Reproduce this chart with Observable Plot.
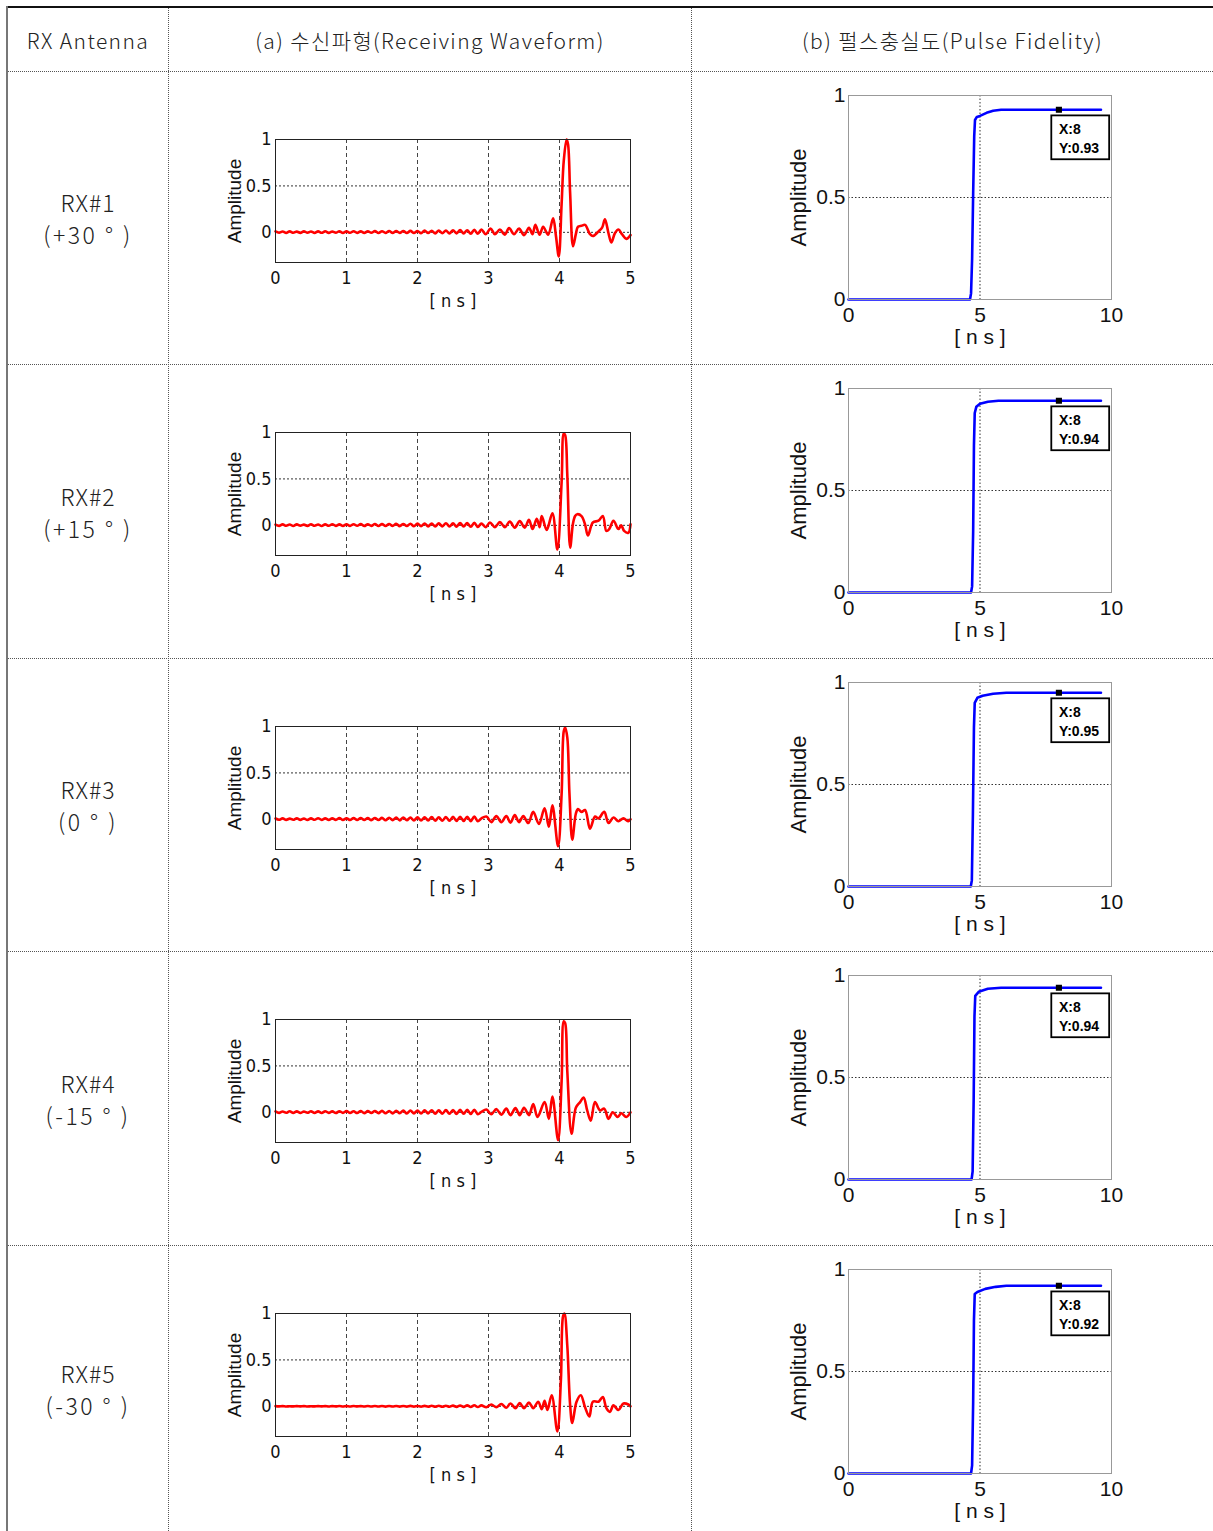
<!DOCTYPE html>
<html>
<head>
<meta charset="utf-8">
<script src="https://cdn.jsdelivr.net/npm/d3@7"></script>
<script src="https://cdn.jsdelivr.net/npm/@observablehq/plot@0.6"></script>
<style>
  body { margin: 0; background: #fff; }
  #page { position: relative; width: 1213px; height: 1531px; overflow: hidden;
          font-family: "Noto Sans CJK KR", sans-serif; color: #222; }
  .hline { position: absolute; height: 0; border-top: 1px dotted #555; }
  .vline { position: absolute; width: 0; border-left: 1px dotted #555; }
  .cell { position: absolute; display: flex; flex-direction: column;
          align-items: center; justify-content: center; text-align: center; }
  .head { font-size: 21px; letter-spacing: 1.4px; font-weight: 300; }
  .rxlab { font-size: 23px; line-height: 32px; letter-spacing: 1px; font-weight: 300; }
  .rxlab .ang { letter-spacing: 2.5px; }
  .chart { position: absolute; }
  .chart svg { overflow: visible; }
</style>
</head>
<body>
<div id="page"></div>
<script>
// ---- table text ----
const headers = ["RX Antenna", "(a) 수신파형(Receiving Waveform)", "(b) 펄스충실도(Pulse Fidelity)"];
const antennas = ["RX#1", "RX#2", "RX#3", "RX#4", "RX#5"];
const angles = ["(+30 ° )", "(+15 ° )", "(0 ° )", "(-15 ° )", "(-30 ° )"];

// ---- receiving waveforms (time in ns, normalised amplitude) ----
// early low-level ripple, shared time grid
const leadT = [0,0.05,0.1,0.15,0.2,0.25,0.3,0.35,0.4,0.45,
  0.5,0.55,0.6,0.65,0.7,0.75,0.8,0.85,0.9,0.95,
  1,1.05,1.1,1.15,1.2,1.25,1.3,1.35,1.4,1.45,
  1.5,1.55,1.6,1.65,1.7,1.75,1.8,1.85,1.9,1.95,
  2,2.05,2.1,2.15,2.2,2.25,2.3,2.35,2.4,2.45,
  2.5,2.55,2.6,2.65,2.7,2.75,2.8,2.85];

const lead1 = [0.010,-0.004,0.009,-0.006,0.010,-0.005,0.008,-0.006,0.011,-0.004,
  0.009,-0.006,0.010,-0.005,0.011,-0.006,0.009,-0.004,0.011,-0.007,
  0.010,-0.005,0.012,-0.006,0.011,-0.007,0.012,-0.005,0.013,-0.007,
  0.012,-0.006,0.014,-0.008,0.013,-0.006,0.015,-0.008,0.016,-0.007,
  0.015,-0.010,0.018,-0.008,0.017,-0.011,0.020,-0.009,0.019,-0.012,
  0.022,-0.011,0.024,-0.013,0.023,-0.015,0.026,-0.016];
const lead2 = [0.008,-0.006,0.010,-0.005,0.009,-0.007,0.010,-0.004,0.008,-0.006,
  0.011,-0.005,0.009,-0.007,0.010,-0.005,0.012,-0.006,0.010,-0.007,
  0.011,-0.006,0.012,-0.005,0.013,-0.008,0.012,-0.006,0.014,-0.007,
  0.013,-0.008,0.015,-0.007,0.016,-0.009,0.015,-0.008,0.017,-0.010,
  0.018,-0.009,0.019,-0.011,0.020,-0.012,0.021,-0.011,0.023,-0.013,
  0.022,-0.014,0.025,-0.013,0.024,-0.016,0.027,-0.017];
const lead3 = [0.009,-0.005,0.010,-0.006,0.008,-0.005,0.011,-0.006,0.009,-0.007,
  0.010,-0.005,0.012,-0.006,0.010,-0.007,0.011,-0.006,0.013,-0.007,
  0.012,-0.008,0.013,-0.007,0.014,-0.008,0.013,-0.009,0.015,-0.008,
  0.016,-0.010,0.017,-0.009,0.018,-0.011,0.019,-0.010,0.020,-0.012,
  0.021,-0.013,0.022,-0.012,0.024,-0.014,0.023,-0.015,0.025,-0.016,
  0.026,-0.017,0.027,-0.018,0.028,-0.019,0.029,-0.020];
const lead4 = [0.010,-0.006,0.009,-0.005,0.011,-0.006,0.010,-0.007,0.009,-0.005,
  0.011,-0.006,0.010,-0.007,0.012,-0.006,0.011,-0.008,0.012,-0.006,
  0.013,-0.007,0.012,-0.008,0.014,-0.009,0.013,-0.008,0.015,-0.009,
  0.016,-0.010,0.015,-0.011,0.017,-0.010,0.018,-0.012,0.019,-0.011,
  0.020,-0.013,0.021,-0.012,0.023,-0.014,0.022,-0.015,0.024,-0.016,
  0.025,-0.017,0.026,-0.016,0.027,-0.018,0.028,-0.019];
const lead5 = [0.002,-0.001,0.002,-0.002,0.001,-0.001,0.002,-0.001,0.002,-0.002,
  0.001,-0.001,0.002,-0.001,0.002,-0.002,0.002,-0.001,0.003,-0.002,
  0.002,-0.002,0.003,-0.001,0.002,-0.002,0.003,-0.002,0.003,-0.002,
  0.003,-0.003,0.004,-0.002,0.003,-0.003,0.004,-0.003,0.005,-0.003,
  0.004,-0.004,0.005,-0.004,0.006,-0.004,0.006,-0.005,0.007,-0.005,
  0.008,-0.006,0.009,-0.006,0.010,-0.007,0.011,-0.008];

// pulse region, [ns, amplitude]
const pulse1 = [[2.9,0.03],[2.96,-0.02],[3.03,0.04],[3.09,-0.02],[3.16,0.03],[3.23,-0.025],[3.29,0.045],[3.36,-0.02],
  [3.43,0.04],[3.5,-0.03],[3.57,0.05],[3.62,-0.02],[3.66,0.08],[3.72,-0.025],[3.77,0.06],[3.84,-0.025],
  [3.91,0.15],[3.95,-0.04],[3.99,-0.26],[4.03,0.31],[4.06,0.77],[4.1,1.0],[4.12,0.95],[4.15,0.42],
  [4.19,-0.15],[4.23,-0.02],[4.26,0.06],[4.31,0.07],[4.36,0.08],[4.43,-0.02],[4.47,-0.04],[4.55,0.01],
  [4.6,0.05],[4.64,0.14],[4.69,-0.01],[4.73,-0.11],[4.78,-0.01],[4.83,0.03],[4.88,-0.02],[4.94,-0.07],[5,-0.03]];
const pulse2 = [[2.9,0.02],[2.96,-0.02],[3.02,0.03],[3.09,-0.02],[3.16,0.035],[3.23,-0.02],[3.3,0.04],[3.37,-0.025],
  [3.44,0.045],[3.51,-0.025],[3.57,0.06],[3.62,-0.04],[3.68,0.07],[3.72,-0.02],[3.75,0.1],[3.82,-0.05],
  [3.9,0.13],[3.97,-0.26],[4.03,0.47],[4.06,0.99],[4.08,0.97],[4.11,0.54],[4.15,-0.24],[4.19,0.02],
  [4.22,0.1],[4.25,0.12],[4.31,0.1],[4.36,0.01],[4.4,-0.11],[4.47,0.03],[4.55,0.05],[4.61,0.1],
  [4.66,-0.06],[4.7,-0.04],[4.76,0.05],[4.83,-0.04],[4.87,0.0],[4.91,-0.06],[4.97,-0.08],[5,0.01]];
const pulse3 = [[2.9,0.01],[2.97,0.03],[3.04,-0.03],[3.11,0.035],[3.18,-0.03],[3.25,0.035],[3.31,-0.035],[3.37,0.045],
  [3.43,-0.03],[3.49,0.035],[3.56,-0.04],[3.63,0.08],[3.71,-0.05],[3.79,0.12],[3.85,-0.08],[3.9,0.15],
  [3.98,-0.29],[4.03,0.28],[4.06,0.95],[4.08,0.99],[4.11,0.88],[4.14,0.28],[4.18,-0.22],[4.23,0.06],
  [4.26,0.11],[4.31,0.08],[4.36,0.1],[4.43,-0.1],[4.5,0.03],[4.55,0.01],[4.63,0.08],[4.69,-0.04],
  [4.76,0.02],[4.83,-0.02],[4.9,0.01],[4.97,-0.02],[5,0]];
const pulse4 = [[2.9,0.005],[2.97,0.03],[3.04,-0.02],[3.11,0.035],[3.18,-0.025],[3.25,0.04],[3.31,-0.03],[3.38,0.045],
  [3.44,-0.03],[3.5,0.05],[3.57,-0.03],[3.63,0.09],[3.69,-0.05],[3.79,0.11],[3.85,-0.07],[3.9,0.17],
  [3.98,-0.3],[4.03,0.34],[4.06,0.98],[4.08,0.96],[4.11,0.44],[4.17,-0.23],[4.23,0.05],[4.29,0.11],
  [4.34,0.16],[4.39,0.02],[4.44,-0.09],[4.5,0.11],[4.57,0.02],[4.63,0.04],[4.69,-0.07],[4.75,0.0],
  [4.82,-0.05],[4.87,-0.01],[4.94,-0.05],[5,0.0]];
const pulse5 = [[2.9,0.01],[2.97,-0.01],[3.04,0.02],[3.11,-0.01],[3.18,0.025],[3.25,-0.015],[3.31,0.03],[3.38,-0.02],
  [3.44,0.035],[3.5,-0.02],[3.57,0.04],[3.63,-0.02],[3.7,0.05],[3.75,-0.03],[3.79,0.06],[3.83,-0.04],
  [3.89,0.12],[3.97,-0.27],[4.02,0.29],[4.05,0.97],[4.07,1.0],[4.11,0.65],[4.15,0.01],[4.18,-0.18],
  [4.24,0.05],[4.3,0.12],[4.36,-0.01],[4.42,-0.11],[4.47,0.05],[4.55,0.05],[4.61,0.1],[4.66,-0.02],
  [4.71,-0.06],[4.76,0.01],[4.83,-0.04],[4.9,0.03],[4.97,0.02],[5,0.0]];

// ---- pulse fidelity curves, [ns, amplitude] ----
const fid1 = [[0,0],[4.62,0],[4.66,0.03],[4.7,0.2],[4.74,0.52],[4.78,0.8],[4.81,0.88],[4.88,0.895],[5,0.9],[5.25,0.915],[5.5,0.925],[5.8,0.93],[8,0.93],[9.6,0.93]];
const fid2 = [[0,0],[4.66,0],[4.7,0.03],[4.74,0.3],[4.77,0.72],[4.8,0.88],[4.86,0.91],[5,0.925],[5.3,0.935],[5.7,0.94],[8,0.94],[9.6,0.94]];
const fid3 = [[0,0],[4.65,0],[4.69,0.03],[4.73,0.35],[4.77,0.78],[4.8,0.9],[4.9,0.925],[5.1,0.935],[5.5,0.945],[6,0.95],[8,0.95],[9.6,0.95]];
const fid4 = [[0,0],[4.68,0],[4.72,0.04],[4.76,0.4],[4.79,0.8],[4.82,0.9],[4.95,0.92],[5.3,0.935],[5.8,0.94],[8,0.94],[9.6,0.94]];
const fid5 = [[0,0],[4.66,0],[4.7,0.04],[4.74,0.35],[4.77,0.75],[4.8,0.88],[4.9,0.89],[5.2,0.905],[5.6,0.915],[6,0.92],[8,0.92],[9.6,0.92]];

// data-tip readouts on the fidelity curves
const tipX = 8;
const tipY = [0.93, 0.94, 0.95, 0.94, 0.92];

// tick values
const waveXTicks = [0, 1, 2, 3, 4, 5];
const waveYTicks = [0, 0.5, 1];
const fidXTicks = [0, 5, 10];
const fidYTicks = [0, 0.5, 1];

const leads = [lead1, lead2, lead3, lead4, lead5];
const pulses = [pulse1, pulse2, pulse3, pulse4, pulse5];
const fids = [fid1, fid2, fid3, fid4, fid5];

// ---- layout ----
const page = document.getElementById("page");
const rowTops = [71, 364, 658, 951, 1245];
const pageBottom = 1531;

function addDiv(cls, style, html) {
  const d = document.createElement("div");
  d.className = cls;
  Object.assign(d.style, style);
  if (html != null) d.innerHTML = html;
  page.appendChild(d);
  return d;
}

// outer borders
addDiv("", {position: "absolute", left: "7px", top: "6px", width: "1206px", height: "0", borderTop: "2px solid #111"});
addDiv("", {position: "absolute", left: "6px", top: "6px", width: "0", height: (pageBottom - 6) + "px", borderLeft: "2px solid #777"});
// column separators
[168, 691].forEach(x => addDiv("vline", {left: x + "px", top: "8px", height: (pageBottom - 8) + "px"}));
// row separators
rowTops.forEach(y => addDiv("hline", {left: "8px", top: y + "px", width: "1205px"}));

// header cells
const colBounds = [[8, 168], [169, 691], [692, 1213]];
headers.forEach((h, i) => {
  addDiv("cell head", {left: colBounds[i][0] + "px", width: (colBounds[i][1] - colBounds[i][0]) + "px", top: "8px", height: "63px"}, h);
});

const labelFont = '"Liberation Sans Narrow", "DejaVu Sans Condensed", "Liberation Sans", sans-serif';

function waveChart(i) {
  const data = leadT.map((t, k) => ({t, a: leads[i][k]}))
    .concat(pulses[i].map(([t, a]) => ({t, a})));
  return Plot.plot({
    width: 450, height: 221,
    marginLeft: 80, marginRight: 15, marginTop: 28, marginBottom: 70,
    style: {fontFamily: labelFont, fontSize: "18px", color: "#111", background: "transparent"},
    x: {domain: [0, 5]},
    y: {domain: [-0.325, 1]},
    marks: [
      Plot.ruleX([1, 2, 3, 4], {stroke: "#444", strokeDasharray: "4,3", strokeWidth: 1}),
      Plot.ruleY([0, 0.5], {stroke: "#333", strokeDasharray: "2,2", strokeWidth: 1}),
      Plot.line(data, {x: "t", y: "a", stroke: "#ff0000", strokeWidth: 2.6, curve: "catmull-rom"}),
      Plot.frame({stroke: "#222", strokeWidth: 1}),
      Plot.axisX({ticks: waveXTicks, tickFormat: d => String(d), tickSize: 0, tickPadding: 9, label: null, fontSize: 18}),
      Plot.axisY({ticks: waveYTicks, tickFormat: d => String(d), tickSize: 0, tickPadding: 4, label: null, fontSize: 18}),
      Plot.text(["Amplitude"], {frameAnchor: "left", textAnchor: "middle", dx: -41, rotate: -90, fontSize: 19,
        fontFamily: '"Liberation Sans", Arial, sans-serif'}),
      Plot.text(["[ n s ]"], {frameAnchor: "bottom", textAnchor: "middle", dy: 44, fontSize: 18})
    ]
  });
}

function fidelityChart(i) {
  const data = fids[i].map(([t, a]) => ({t, a}));
  const tip = [{x: tipX, y: tipY[i]}];
  return Plot.plot({
    width: 391, height: 288,
    marginLeft: 88, marginRight: 40, marginTop: 24, marginBottom: 60,
    style: {fontFamily: '"Liberation Sans", Arial, sans-serif', fontSize: "21px", color: "#111", background: "transparent"},
    x: {domain: [0, 10]},
    y: {domain: [0, 1]},
    marks: [
      Plot.ruleX([5], {stroke: "#333", strokeDasharray: "1.5,2", strokeWidth: 1}),
      Plot.ruleY([0.5], {stroke: "#333", strokeDasharray: "1.5,2", strokeWidth: 1}),
      Plot.line(data, {x: "t", y: "a", stroke: "#0000ff", strokeWidth: 2.6}),
      Plot.frame({stroke: "#999", strokeWidth: 1}),
      Plot.axisX({ticks: fidXTicks, tickFormat: d => String(d), tickSize: 0, tickPadding: 8, label: null, fontSize: 21}),
      Plot.axisY({ticks: fidYTicks, tickFormat: d => String(d), tickSize: 0, tickPadding: 3, label: null, fontSize: 21}),
      Plot.text(["Amplitude"], {frameAnchor: "left", textAnchor: "middle", dx: -50, rotate: -90, fontSize: 22}),
      Plot.text(["[ n s ]"], {frameAnchor: "bottom", textAnchor: "middle", dy: 44, fontSize: 21}),
      // data tip: box, marker and readout
      Plot.rect(tip, {x1: d => d.x - 0.27, x2: d => d.x + 1.93, y1: d => d.y - 0.03, y2: d => d.y - 0.245,
        fill: "white", stroke: "#000", strokeWidth: 1.8}),
      Plot.dot(tip, {x: "x", y: "y", symbol: "square", r: 2.6, fill: "#000", stroke: "#000"}),
      Plot.text(tip, {x: "x", y: "y", text: d => `X:${d.x}\nY:${d.y}`, textAnchor: "start", lineAnchor: "top",
        dy: 11, fontSize: 14, fontWeight: "bold", lineHeight: 1.35, fill: "#000"})
    ]
  });
}

rowTops.forEach((top, i) => {
  const bottom = i < rowTops.length - 1 ? rowTops[i + 1] : pageBottom;
  addDiv("cell rxlab", {left: "8px", width: "160px", top: (top + 1) + "px", height: (bottom - top - 1) + "px"},
    `<div>${antennas[i]}</div><div class="ang">${angles[i]}</div>`);

  const w = addDiv("chart", {left: "195px", top: (top + 40) + "px"});
  w.appendChild(waveChart(i));

  const f = addDiv("chart", {left: "760px", top: top + "px"});
  f.appendChild(fidelityChart(i));
});
</script>
</body>
</html>
